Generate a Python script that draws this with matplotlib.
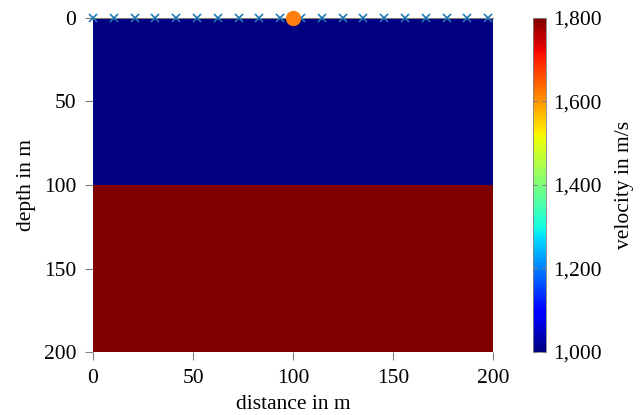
import numpy as np
import matplotlib
matplotlib.use("Agg")
import matplotlib.pyplot as plt
from matplotlib.ticker import FuncFormatter

plt.rcParams["font.family"] = ["Liberation Serif", "DejaVu Serif"]
plt.rcParams["font.size"] = 15.5

# two layer velocity model
x_edges = [0, 200]
depth_edges = [0, 100, 200]
velocity = [[1000], [1800]]

# receivers and source
receiver_x = [0, 10.4, 20.8, 31.2, 41.6, 52.0, 62.4, 72.8, 83.2, 93.6,
              104.0, 114.4, 124.8, 135.2, 145.6, 156.0, 166.4, 176.8, 187.2, 197.6]
receiver_z = [0] * len(receiver_x)
source_x = [100]
source_z = [0]

fig = plt.figure(figsize=(6.43, 4.15), dpi=100)
ax = fig.add_axes([93 / 643, 1 - 352 / 415, 400 / 643, 334 / 415])
cax = fig.add_axes([533 / 643, 1 - 352 / 415, 13 / 643, 334 / 415])

mesh = ax.pcolormesh(x_edges, depth_edges, np.array(velocity), cmap="jet",
                     vmin=1000, vmax=1800)
ax.plot(receiver_x, receiver_z, "x", color="tab:blue", ms=6, mew=1.2,
        clip_on=False, zorder=5)
ax.plot(source_x, source_z, "o", color="tab:orange", ms=10, clip_on=False, zorder=6)

ax.set_xlim(0, 200)
ax.set_ylim(200, 0)
ax.set_xticks([0, 50, 100, 150, 200])
ax.set_yticks([0, 50, 100, 150, 200])
for s in ["left", "right", "bottom"]:
    ax.spines[s].set_visible(False)
ax.spines["top"].set_color("gray")
ax.spines["top"].set_linewidth(0.8)
ax.tick_params(direction="out", color="gray", length=6, width=0.8)
ax.tick_params(axis="x", pad=6.5)
ax.tick_params(axis="y", pad=6)
ax.set_xlabel("distance in m", labelpad=5)
ax.set_ylabel("depth in m", labelpad=6)

cb = fig.colorbar(mesh, cax=cax)
cb.set_ticks([1000, 1200, 1400, 1600, 1800])
cb.ax.yaxis.set_major_formatter(FuncFormatter(lambda v, p: f"{int(v):,}"))
cb.ax.tick_params(direction="in", color="gray", length=3, width=0.8, left=True, pad=5)
cb.outline.set_edgecolor("gray")
cb.outline.set_linewidth(0.6)
cb.set_label("velocity in m/s", labelpad=10)

fig.savefig("out.png", dpi=100)
